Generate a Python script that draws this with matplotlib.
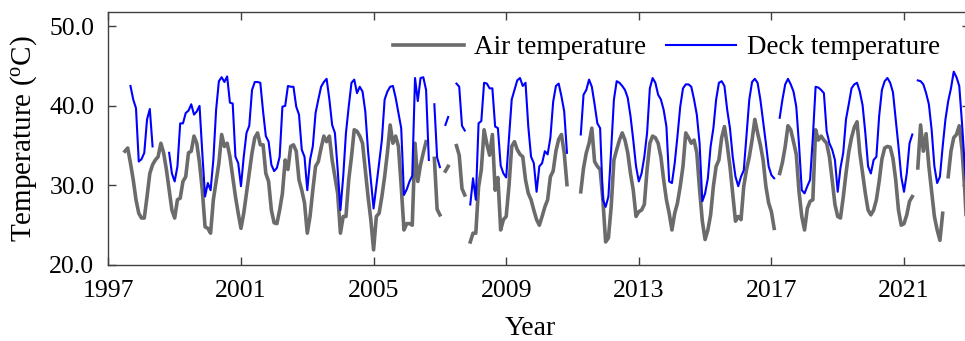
import numpy as np
import matplotlib
matplotlib.use('Agg')
import matplotlib.pyplot as plt
from matplotlib.ticker import FormatStrFormatter

plt.rcParams['font.family'] = ['Liberation Serif', 'DejaVu Serif']
plt.rcParams['mathtext.fontset'] = 'custom'
plt.rcParams['mathtext.rm'] = 'Liberation Serif'

nan = np.nan
start_year = 1997

# monthly air temperature (Jan..Dec), one row per year
air_temp = [
    [nan, nan, nan, nan, nan, nan, 34.3, 34.7, 32.8, 30.7, 28.2, 26.5],  # 1997
    [25.9, 25.9, 28.6, 31.5, 32.6, 33.2, 33.6, 35.3, 34.1, 32.0, 29.4, 26.9],  # 1998
    [25.9, 28.2, 28.4, 30.5, 31.1, 34.1, 34.3, 36.2, 35.3, 32.8, 29.4, 24.8],  # 1999
    [24.6, 24.0, 28.2, 30.5, 32.8, 36.4, 34.9, 35.3, 33.6, 31.1, 28.6, 26.5],  # 2000
    [24.6, 26.5, 29.0, 31.5, 34.1, 36.0, 36.6, 35.1, 35.1, 31.5, 30.5, 26.9],  # 2001
    [25.3, 25.2, 26.9, 29.0, 33.2, 32.0, 34.9, 35.1, 34.3, 30.7, 29.4, 27.8],  # 2002
    [24.0, 26.1, 29.4, 32.4, 33.0, 34.7, 36.2, 35.5, 36.2, 33.2, 31.1, 29.0],  # 2003
    [24.0, 26.1, 26.1, 30.7, 33.6, 37.0, 36.8, 36.2, 35.3, 32.0, 28.6, 25.7],  # 2004
    [21.9, 26.1, 26.5, 28.6, 31.1, 34.1, 37.6, 35.3, 36.2, 34.9, 29.9, 24.4],  # 2005
    [25.2, 25.2, 25.0, 35.3, 30.5, 32.6, 34.1, 35.5, nan, nan, 33.4, 27.0],  # 2006
    [26.3, nan, 31.8, 32.4, nan, nan, 35.0, 33.8, 29.6, 28.8, nan, 22.9],  # 2007
    [24.0, 24.0, 29.8, 32.0, 37.0, 35.2, 33.8, 36.4, 29.4, 31.0, 24.4, 25.7],  # 2008
    [26.1, 29.9, 34.9, 35.5, 34.5, 33.9, 33.6, 30.7, 29.0, 28.2, 26.9, 25.7],  # 2009
    [25.0, 26.1, 27.3, 28.2, 31.1, 31.8, 34.3, 35.8, 36.4, 34.1, 30.1, nan],  # 2010
    [nan, nan, nan, 29.2, 32.2, 34.1, 35.3, 37.2, 33.0, 32.4, 32.0, 28.2],  # 2011
    [22.9, 23.4, 27.3, 33.2, 34.5, 35.7, 36.6, 35.7, 34.1, 31.5, 29.4, 26.1],  # 2012
    [26.7, 26.9, 27.6, 32.0, 35.3, 36.2, 36.0, 35.3, 33.6, 30.7, 28.2, 26.5],  # 2013
    [24.4, 26.5, 27.8, 29.9, 32.4, 36.6, 36.0, 35.3, 35.7, 34.1, 29.5, 25.5],  # 2014
    [23.2, 24.4, 26.3, 29.9, 32.4, 33.2, 36.0, 37.4, 35.1, 32.4, 29.0, 25.5],  # 2015
    [26.1, 25.7, 29.9, 32.0, 33.6, 35.7, 38.3, 36.6, 35.1, 33.2, 29.9, 27.8],  # 2016
    [26.7, 24.6, nan, 31.5, 32.9, 34.9, 37.5, 37.0, 35.5, 33.9, 29.2, 26.1],  # 2017
    [24.4, 27.1, 28.0, 28.2, 37.0, 35.7, 36.2, 35.7, 35.3, 33.6, 30.7, 27.6],  # 2018
    [26.1, 25.9, 28.5, 31.5, 34.2, 36.0, 37.3, 38.0, 34.1, 31.5, 29.0, 26.9],  # 2019
    [26.3, 26.9, 28.2, 30.5, 33.3, 34.7, 34.9, 34.8, 33.4, 30.7, 26.9, 25.0],  # 2020
    [25.2, 26.3, 28.0, 28.6, nan, 32.2, 37.6, 34.3, 36.5, 32.4, 29.2, 26.1],  # 2021
    [24.4, 23.1, 26.5, nan, 31.1, 34.3, 36.0, 36.4, 37.5, 34.5, 29.4, 22.5],  # 2022
]

# monthly deck temperature (Jan..Dec), one row per year
deck_temp = [
    [nan, nan, nan, nan, nan, nan, nan, nan, 42.5, 40.8, 39.7, 33.0],  # 1997
    [33.3, 34.1, 38.3, 39.6, 34.9, nan, nan, nan, nan, nan, 34.1, 31.5],  # 1998
    [30.5, 32.4, 37.8, 37.8, 39.1, 39.4, 40.2, 38.9, 39.3, 40.0, 34.1, 28.6],  # 1999
    [30.3, 29.4, 33.2, 39.5, 43.1, 43.6, 43.0, 43.7, 40.4, 40.3, 33.6, 32.8],  # 2000
    [29.9, 33.6, 36.6, 37.5, 42.0, 43.0, 43.0, 42.9, 39.3, 36.2, 35.5, 32.6],  # 2001
    [31.8, 32.2, 33.6, 39.9, 40.0, 42.5, 42.4, 42.4, 39.9, 38.9, 34.5, 33.6],  # 2002
    [29.4, 33.2, 34.9, 39.1, 40.8, 42.4, 43.0, 43.4, 40.8, 37.6, 36.6, 32.0],  # 2003
    [26.9, 31.1, 36.6, 39.9, 42.9, 43.3, 41.6, 42.4, 41.8, 39.3, 34.3, 30.7],  # 2004
    [27.1, 29.9, 32.8, 35.7, 40.8, 41.8, 42.4, 42.5, 41.0, 39.1, 37.2, 28.8],  # 2005
    [29.5, 30.5, 31.2, 43.5, 40.6, 43.5, 43.6, 42.0, 33.2, nan, 40.2, 33.5],  # 2006
    [32.3, nan, 37.6, 38.6, nan, nan, 42.8, 42.4, 37.5, 36.9, nan, 27.6],  # 2007
    [30.9, 28.2, 37.8, 38.1, 42.9, 42.8, 42.2, 42.2, 37.4, 37.2, 32.5, 31.5],  # 2008
    [31.0, 36.0, 40.8, 42.0, 43.2, 43.5, 42.5, 42.9, 37.4, 33.6, 32.8, 29.2],  # 2009
    [32.4, 32.8, 34.3, 33.9, 36.0, 40.5, 42.5, 42.8, 41.2, 39.3, 34.1, nan],  # 2010
    [nan, nan, nan, 36.4, 41.4, 42.0, 43.3, 42.4, 40.2, 37.8, 37.2, 28.2],  # 2011
    [27.3, 28.6, 34.5, 40.8, 43.1, 42.9, 42.5, 42.0, 41.0, 38.7, 35.7, 32.4],  # 2012
    [30.5, 31.5, 33.6, 36.6, 42.2, 43.5, 42.9, 41.4, 40.8, 39.5, 37.4, 30.5],  # 2013
    [30.3, 32.8, 36.2, 39.9, 42.2, 42.7, 42.7, 42.4, 40.8, 38.9, 35.3, 28.0],  # 2014
    [29.0, 30.9, 34.9, 37.2, 40.8, 42.9, 43.1, 42.5, 39.5, 37.2, 33.6, 31.1],  # 2015
    [29.9, 31.1, 31.9, 36.4, 40.8, 43.0, 43.4, 42.9, 40.8, 38.1, 35.3, 32.4],  # 2016
    [31.3, 30.9, nan, 38.5, 40.8, 42.7, 43.4, 42.7, 41.8, 39.9, 35.1, 29.4],  # 2017
    [29.0, 29.9, 30.7, 36.0, 42.4, 42.3, 42.0, 41.6, 36.8, 35.3, 34.5, 33.2],  # 2018
    [29.2, 32.2, 34.1, 38.3, 40.2, 42.2, 42.7, 42.9, 41.8, 40.1, 36.6, 32.4],  # 2019
    [31.5, 33.2, 33.6, 38.7, 42.0, 43.1, 43.5, 42.9, 41.7, 38.3, 34.9, 31.1],  # 2020
    [29.2, 31.5, 35.3, 36.4, nan, 43.2, 43.1, 42.7, 41.6, 40.2, 37.0, 32.4],  # 2021
    [30.3, 31.1, 34.9, 38.3, 40.6, 42.2, 44.3, 43.6, 42.5, 37.8, 32.4, 28.0],  # 2022
]

year_ticks = [1997, 2001, 2005, 2009, 2013, 2017, 2021]
temp_ticks = [20, 30, 40, 50]

air = np.array(air_temp).ravel()
deck = np.array(deck_temp).ravel()
t = start_year + np.arange(len(air)) / 12.0

fig = plt.figure(figsize=(9.65, 3.41), dpi=100)
ax = fig.add_axes([0.1123, 0.2229, 0.8932, 0.742])

ax.plot(t, air, color='#6b6b6b', lw=2.6, label='Air temperature')
ax.plot(t, deck, color='#0000ff', lw=1.5, label='Deck temperature')

ax.set_xlim(1997, 2023)
ax.set_ylim(20, 51.8)
ax.set_xticks(year_ticks)
ax.set_yticks(temp_ticks)
ax.yaxis.set_major_formatter(FormatStrFormatter('%.1f'))
ax.tick_params(direction='in', top=True, right=True, length=6, width=1,
               color='#404040', labelsize=18.5)
ax.tick_params(axis='x', pad=11)
ax.tick_params(axis='y', pad=10)
for s in ax.spines.values():
    s.set_color('#404040')
    s.set_linewidth(1)

ax.set_xlabel('Year', fontsize=20)
ax.set_ylabel(r'Temperature ($\mathregular{^{o}}$C)', fontsize=21)
ax.xaxis.set_label_coords(0.49, -0.2)
ax.yaxis.set_label_coords(-0.081, 0.5)

ax.legend(loc='upper right', ncol=2, frameon=False, fontsize=19.5,
          handlelength=2.6, handletextpad=0.4, columnspacing=0.7,
          bbox_to_anchor=(0.993, 1.005))

fig.savefig('out.png', dpi=100)
